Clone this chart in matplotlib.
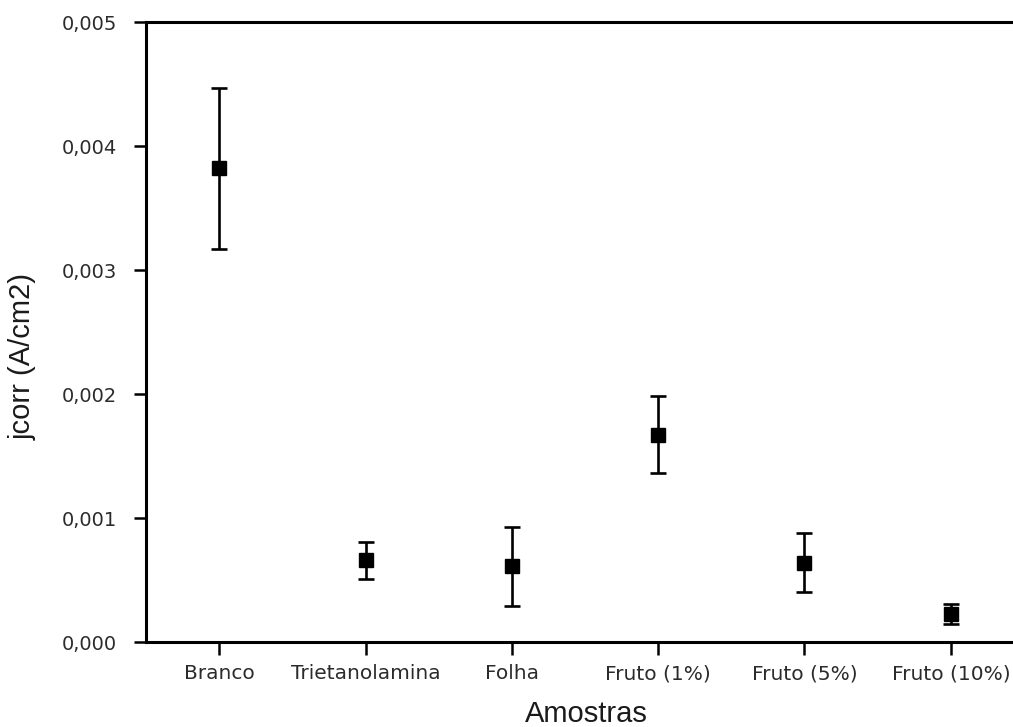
import matplotlib.pyplot as plt
from matplotlib.ticker import FuncFormatter

amostras = ['Branco', 'Trietanolamina', 'Folha', 'Fruto (1%)', 'Fruto (5%)', 'Fruto (10%)']
jcorr = [0.00382, 0.00066, 0.00061, 0.00167, 0.00064, 0.000226]
erro = [0.00065, 0.00015, 0.00032, 0.00031, 0.00024, 0.00008]

fig = plt.figure(figsize=(10.13, 7.27), dpi=100)
# axes runs slightly past the right edge of the figure, as in the reference
ax = fig.add_axes([146 / 1013, 85 / 727, 878 / 1013, 620 / 727])

x = list(range(len(amostras)))
ax.errorbar(x, jcorr, yerr=erro, fmt='s', color='black', ms=9.5,
            elinewidth=1.9, capsize=5.8, capthick=1.9)

ax.set_xlim(-0.5, 5.5)
ax.set_ylim(0, 0.005)
ax.set_xticks(x)
ax.set_xticklabels(amostras)
ax.set_yticks([0, 0.001, 0.002, 0.003, 0.004, 0.005])
ax.yaxis.set_major_formatter(FuncFormatter(lambda v, p: f'{v:.3f}'.replace('.', ',')))

for s in ['left', 'bottom', 'top']:
    ax.spines[s].set_linewidth(2.2)
ax.spines['right'].set_visible(False)

ax.tick_params(axis='both', direction='out', length=9, width=1.8, colors='black')
ax.tick_params(axis='x', pad=7, labelsize=14.5, labelcolor='#2b2b2b')
ax.tick_params(axis='y', pad=12, labelsize=14, labelcolor='#2b2b2b')
ax.tick_params(axis='x', which='both', top=False)

ax.set_ylabel('jcorr (A/cm2)', fontsize=21, family='Liberation Sans', color='#1a1a1a')
ax.yaxis.set_label_coords(-0.125, 0.46)
ax.set_xlabel('Amostras', fontsize=21, family='Liberation Sans', color='#1a1a1a')
ax.xaxis.set_label_coords(0.501, -0.0935)

fig.savefig('out.png', dpi=100)
